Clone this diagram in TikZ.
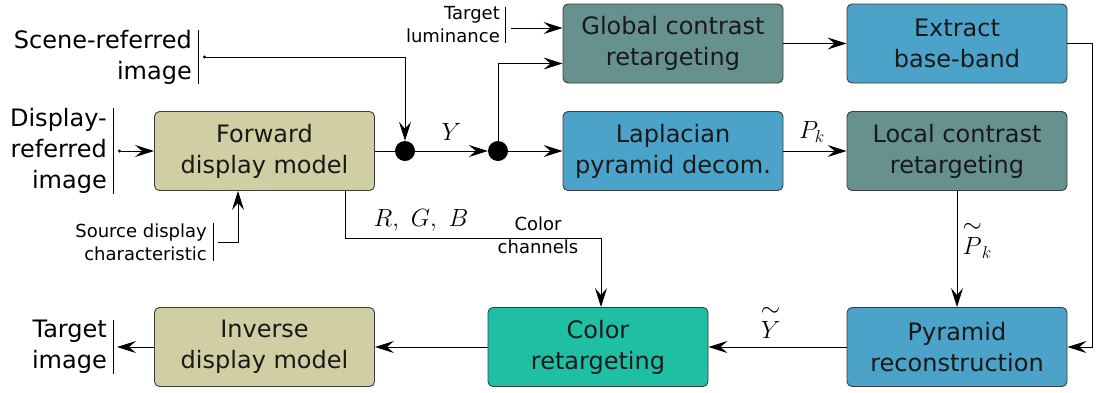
\documentclass[tikz,border=0pt]{standalone}
\usepackage{fontspec}
\setmainfont{DejaVu Sans}
\usepackage{amsmath}
\usetikzlibrary{arrows.meta,calc}

\definecolor{dispbox}{RGB}{207,207,163}
\definecolor{contrastbox}{RGB}{102,145,143}
\definecolor{pyrbox}{RGB}{75,163,201}
\definecolor{colorbox}{RGB}{31,191,163}
\definecolor{edge}{RGB}{60,60,60}

\newcommand{\wtil}[1]{\overset{\displaystyle\sim}{#1}}

\begin{document}
\begin{tikzpicture}[x=1pt,y=-1pt,
  blk/.style={draw=edge, line width=0.9pt, rounded corners=5pt,
    minimum width=220pt, minimum height=79pt, inner sep=0pt,
    align=center, text=black!90, font=\fontsize{24}{31}\selectfont},
  biglbl/.style={align=right, inner sep=0pt, font=\fontsize{24}{31}\selectfont},
  smlbl/.style={align=right, inner sep=0pt, font=\fontsize{18}{23}\selectfont},
  mathlbl/.style={inner sep=0pt, font=\fontsize{24}{29}\selectfont},
  junction/.style={circle, fill=black, minimum size=20pt, inner sep=0pt},
  flow/.style={line width=1pt, -{Stealth[length=19pt,width=12pt,inset=7pt]}},
  srcflow/.style={line width=1pt, {Circle[length=3pt]}-{Stealth[length=19pt,width=12pt,inset=7pt]}},
  bar/.style={line width=1pt}
]
\useasboundingbox (0,0) rectangle (1098,392);

% processing blocks
\node[blk, fill=dispbox] (fwd) at (264.5,151) {Forward\\display model};
\node[blk, fill=dispbox] (inv) at (264.5,347) {Inverse\\display model};
\node[blk, fill=contrastbox] (glob) at (673,43.5) {Global contrast\\retargeting};
\node[blk, fill=pyrbox] (ext) at (957,43.5) {Extract\\base-band};
\node[blk, fill=pyrbox] (lap) at (673,151) {Laplacian\\pyramid decom.};
\node[blk, fill=contrastbox] (loc) at (957,151) {Local contrast\\retargeting};
\node[blk, fill=pyrbox] (pyr) at (957,347) {Pyramid\\reconstruction};
\node[blk, fill=colorbox] (col) at (598,347) {Color\\retargeting};

% junctions on the luminance path
\node[junction] (d1) at (405,151) {};
\node[junction] (d2) at (498,151) {};

% inputs and outputs
\node[biglbl, anchor=east] (scene) at (192,57) {Scene-referred\\image};
\draw[bar] ([xshift=6pt]scene.north east) -- ([xshift=6pt]scene.south east);
\node[biglbl, anchor=east] (disp) at (107,151) {Display-\\referred\\image};
\draw[bar] ([xshift=6pt]disp.north east) -- ([xshift=6pt]disp.south east);
\node[biglbl, anchor=east] (tgt) at (107,347) {Target\\image};
\draw[bar] ([xshift=6pt]tgt.north east) -- ([xshift=6pt]tgt.south east);
\node[smlbl, anchor=east] (lum) at (500,25) {Target\\luminance};
\draw[bar] ([xshift=5pt]lum.north east) -- ([xshift=5pt]lum.south east);
\node[smlbl, anchor=east] (src) at (207,242) {Source display\\characteristic};
\draw[bar] ([xshift=6pt]src.north east) -- ([xshift=6pt]src.south east);

% entry points on the global contrast block
\coordinate (gin1) at ([yshift=15.5pt]glob.west);
\coordinate (gin2) at ([yshift=-20pt]glob.west);

% connectors
\draw[srcflow] ([xshift=11pt]scene.east) -| (d1.north);
\draw[srcflow] ([xshift=11pt]disp.east) -- (fwd.west);
\draw[line width=1pt] (fwd.east) -- (d1.west);
\draw[flow] (d1.east) -- node[mathlbl, above=10pt] {$Y$} (d2.west);
\draw[flow] (d2.east) -- (lap.west);
\draw[flow] (d2.north) |- (gin2);
\draw[flow] ([xshift=11pt]gin1 -| lum.east) -- (gin1);
\draw[flow] (glob.east) -- (ext.west);
\draw[flow] (lap.east) -- node[mathlbl, above=8pt, pos=0.45] {$P_k$} (loc.west);
\draw[flow] (loc.south) -- node[mathlbl, right=5pt, pos=0.42] {$\wtil{P}_k$} (pyr.north);
\draw[flow] (ext.east) -- ++(25,0) |- (pyr.east);
\draw[flow] (pyr.west) -- node[mathlbl, above=8pt, pos=0.55] {$\wtil{Y}$} (col.east);
\draw[flow] (col.west) -- (inv.east);
\draw[flow] (inv.west) -- ([xshift=10pt]inv.west -| tgt.east);
\draw[flow] ([xshift=11pt]src.east) -| ([xshift=-26.5pt]fwd.south);
\draw[flow] ([xshift=80.5pt]fwd.south) |- ([xshift=3pt,yshift=69pt]col.north) -- ([xshift=3pt]col.north);

% colour-path labels
\node[mathlbl] (rgb) at (421,220) {$R,\ G,\ B$};
\node[smlbl, align=center] (chan) at (538,235) {Color\\channels};
\end{tikzpicture}
\end{document}
